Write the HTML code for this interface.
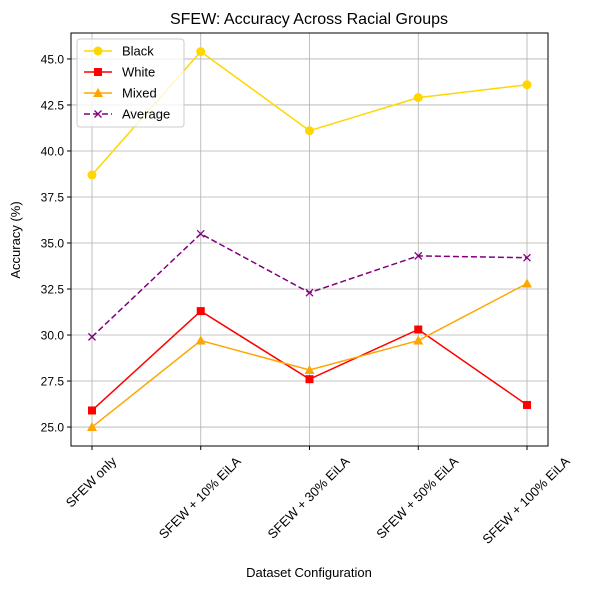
<!DOCTYPE html>
<html><head><meta charset="utf-8"><style>
body{margin:0;background:#fff;}
svg text{font-family:"Liberation Sans","DejaVu Sans",sans-serif;fill:#000;}
</style></head><body>
<svg id="chart" width="589" height="590" xmlns="http://www.w3.org/2000/svg">
<rect width="589" height="590" fill="#fff"/>
<text x="309" y="24" font-size="16" text-anchor="middle">SFEW: Accuracy Across Racial Groups</text>
<g id="grid"></g>
<g id="series"></g>
<rect x="71" y="33" width="477" height="413" fill="none" stroke="#000" stroke-width="1"/>
<g id="axes"></g>
<text x="309" y="577" font-size="13" text-anchor="middle">Dataset Configuration</text>
<text transform="translate(20,240) rotate(-90)" font-size="13" text-anchor="middle">Accuracy (%)</text>
<g id="legend"></g>
</svg>
<script>
const categories=["SFEW only","SFEW + 10% EiLA","SFEW + 30% EiLA","SFEW + 50% EiLA","SFEW + 100% EiLA"];
const black=[38.7,45.4,41.1,42.9,43.6];
const white=[25.9,31.3,27.6,30.3,26.2];
const mixed=[25.0,29.7,28.1,29.7,32.8];
const average=[29.9,35.5,32.3,34.3,34.2];
const yTicks=[25.0,27.5,30.0,32.5,35.0,37.5,40.0,42.5,45.0];
const NS="http://www.w3.org/2000/svg";
const L=71,R=548,T=33,B=446;
const xMin=-0.193,xMax=4.193,yMin=23.97,yMax=46.41;
const xs=i=>L+(i-xMin)/(xMax-xMin)*(R-L);
const ys=v=>B-(v-yMin)/(yMax-yMin)*(B-T);
function mk(tag,attrs,parent){const e=document.createElementNS(NS,tag);for(const k in attrs)e.setAttribute(k,attrs[k]);parent.appendChild(e);return e;}
const grid=document.getElementById('grid'),axes=document.getElementById('axes'),ser=document.getElementById('series'),leg=document.getElementById('legend');
yTicks.forEach(v=>{const y=ys(v);
 const g=mk('line',{x1:L,x2:R,y1:y,y2:y,stroke:'#b0b0b0','stroke-width':0.8},grid);
 
 
 mk('line',{x1:L-4,x2:L,y1:y,y2:y,stroke:'#000'},axes);
 const t=mk('text',{x:L-7,y:y+4.5,'font-size':12,'text-anchor':'end'},axes);t.textContent=v.toFixed(1);
 
 
});
categories.forEach((c,i)=>{const x=xs(i);
 const g=mk('line',{x1:x,x2:x,y1:T,y2:B,stroke:'#b0b0b0','stroke-width':0.8},grid);
 
 
 mk('line',{x1:x,x2:x,y1:B,y2:B+4,stroke:'#000'},axes);
 const t=mk('text',{'font-size':13,'text-anchor':'middle','dominant-baseline':'central'},axes);t.textContent=c;
 const len=t.getComputedTextLength();
 const h=(len+14)*0.7071;
 t.setAttribute('transform',`translate(${x-1},${B+8+h/2}) rotate(-45)`);
 
 
});
function marker(type,x,y,color,p){
 if(type==='o')return mk('circle',{cx:x,cy:y,r:4.5,fill:color},p);
 if(type==='s')return mk('rect',{x:x-4,y:y-4,width:8,height:8,fill:color},p);
 if(type==='^')return mk('polygon',{points:`${x},${y-5} ${x-5},${y+4} ${x+5},${y+4}`,fill:color},p);
 return mk('path',{d:`M${x-3.5},${y-3.5}L${x+3.5},${y+3.5}M${x-3.5},${y+3.5}L${x+3.5},${y-3.5}`,stroke:color,'stroke-width':1.3},p);
}
const series=[["Black",black,"#ffd700","o",""],["White",white,"#ff0000","s",""],["Mixed",mixed,"#ffa500","^",""],["Average",average,"#800080","x","6,3"]];
series.forEach(([name,vals,color,m,dash])=>{
 const g=mk('g',{},ser);
 
 
 mk('polyline',{points:vals.map((v,i)=>xs(i)+','+ys(v)).join(' '),fill:'none',stroke:color,'stroke-width':1.5,'stroke-dasharray':dash},g);
 vals.forEach((v,i)=>{const e=marker(m,xs(i),ys(v),color,g);
  
  });
});
const box=mk('rect',{x:77,y:39,width:107,height:88,rx:3,fill:'#fff','fill-opacity':0.8,stroke:'#ccc'},leg);


series.forEach(([name,vals,color,m,dash],k)=>{const y=51+k*21;
 const g=mk('g',{},leg);
 
 
 mk('line',{x1:84,x2:112,y1:y,y2:y,stroke:color,'stroke-width':1.5,'stroke-dasharray':dash},g);
 marker(m,98,y,color,g);
 const t=mk('text',{x:122,y:y+4.5,'font-size':13},g);t.textContent=name;
});
</script>
</body></html>
